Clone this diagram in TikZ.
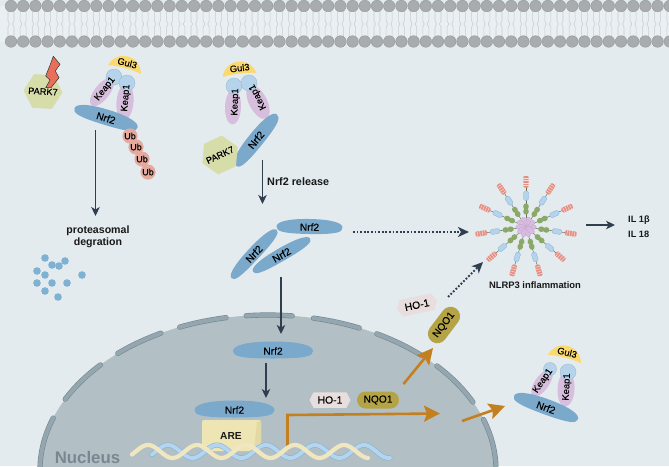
\documentclass[tikz,border=0pt]{standalone}
\usepackage{fontspec}
\setmainfont{Liberation Sans}
\newfontfamily\medfont{Liberation Sans}[FakeBold=0.2]
\usetikzlibrary{arrows.meta,shapes.geometric,shapes.misc,shapes.symbols}
\definecolor{cellbg}{HTML}{E3EBEF}
\definecolor{tailbg}{HTML}{E9EFF2}
\definecolor{tailline}{HTML}{C6CDD1}
\definecolor{lipid}{HTML}{A8ACAF}
\definecolor{lipidedge}{HTML}{93979A}
\definecolor{nucfill}{HTML}{B2C0C6}
\definecolor{envfill}{HTML}{94A6AF}
\definecolor{envedge}{HTML}{76878F}
\definecolor{nrfblue}{HTML}{7BA9CC}
\definecolor{keapfill}{HTML}{D6BEDC}
\definecolor{headfill}{HTML}{B5D3EB}
\definecolor{gulfill}{HTML}{FBD96E}
\definecolor{parkfill}{HTML}{D6DDA9}
\definecolor{ubfill}{HTML}{E5A99E}
\definecolor{darkline}{HTML}{2F3F4F}
\definecolor{orangeline}{HTML}{C47F1E}
\definecolor{nqofill}{HTML}{B5A445}
\definecolor{hofill}{HTML}{E8DEDD}
\definecolor{arefill}{HTML}{EEE5B5}
\definecolor{areside}{HTML}{E3D9A4}
\definecolor{creamdna}{HTML}{F0E7BE}
\definecolor{bluedna}{HTML}{B3D5F0}
\definecolor{bluednaedge}{HTML}{7FAFD6}
\definecolor{dotblue}{HTML}{7FB2D2}
\definecolor{boltred}{HTML}{E8705A}
\definecolor{nuclabel}{HTML}{7B8790}
\definecolor{stalk}{HTML}{6F6A5C}
\definecolor{greenbead}{HTML}{8AA867}
\definecolor{redbead}{HTML}{E58F83}
\definecolor{bluebead}{HTML}{B5D3EB}
\definecolor{petal}{HTML}{D9BBE0}
\definecolor{petaledge}{HTML}{BE9FC9}
\tikzset{
  lbl/.style={font=\medfont\fontsize{10.2}{11}\selectfont,text=black,inner sep=0pt},
  boldlbl/.style={font=\bfseries\fontsize{10.6}{12.2}\selectfont,text=black!90,inner sep=0pt,align=center},
  keapnode/.style={ellipse,fill=keapfill,inner sep=0pt},
  keaptext/.style={font=\medfont\fontsize{9.4}{10}\selectfont,text=black,inner sep=0pt},
  headnode/.style={circle,fill=headfill,draw=headfill!85!black,line width=.3pt,inner sep=0pt},
  ubnode/.style={circle,fill=ubfill,inner sep=0pt,minimum size=15.2pt,font=\medfont\fontsize{9}{10}\selectfont},
  parknode/.style={regular polygon,regular polygon sides=6,fill=parkfill,inner sep=-8pt,minimum size=39pt,font=\medfont\fontsize{9.2}{10}\selectfont},
  hobox/.style={signal,signal to=west and east,signal pointer angle=125,fill=hofill,inner sep=1pt,minimum height=15.5pt,minimum width=41pt,font=\medfont\fontsize{10.4}{11}\selectfont},
  nqobox/.style={rounded rectangle,fill=nqofill,inner sep=0pt,minimum height=17pt,minimum width=42pt,font=\medfont\fontsize{10.2}{11}\selectfont},
  darkarrow/.style={-{Stealth[length=9pt,width=8.5pt,inset=2.5pt]},draw=darkline,line width=1.3pt},
  dotarrow/.style={-{Stealth[length=11pt,width=10pt,inset=3pt]},draw=darkline,line width=1.8pt,dash pattern=on 1.8pt off 1.8pt},
  orangearrow/.style={-{Stealth[length=16pt,width=16pt,inset=3pt]},draw=orangeline,line width=2.6pt},
  envelope/.style={line cap=round,line width=5.2pt},
}
% one arc of the nuclear envelope, between two parameter angles of the nuclear ellipse
\newcommand\envseg[2]{%
  \draw[envelope,draw=envedge] plot[domain=#1:#2,samples=14,smooth,variable=\t] ({268+228*cos(\t)},{470-155*sin(\t)});
  \draw[envelope,line width=4pt,draw=envfill] plot[domain=#1:#2,samples=14,smooth,variable=\t] ({268+228*cos(\t)},{470-155*sin(\t)});
}
% Nrf2 protein: domed on top, flatter underneath
% name, x, y, angle, half length, top height, bottom height
\newcommand\nrfbody[7]{%
  \begin{scope}[shift={(#2,#3)},rotate=#4]
    \fill[nrfblue] (-#5,0) .. controls (-#5,-.55*#6) and (-.7*#5,-#6) .. (0,-#6)
      .. controls (.7*#5,-#6) and (#5,-.55*#6) .. (#5,0)
      .. controls (#5,.65*#7) and (.85*#5,#7) .. (0,#7)
      .. controls (-.85*#5,#7) and (-#5,.65*#7) .. (-#5,0) -- cycle;
  \end{scope}
  \node[lbl,rotate=#4] (#1) at (#2,#3) {Nrf2};
}
% Gul3 cap: crescent with its label
\newcommand\gulcap[4]{%
  \begin{scope}[shift={(#2,#3)},rotate=#4]
    \fill[gulfill] (-17,0) .. controls (-12,-18) and (12,-18) .. (17,0)
      .. controls (8,-2) and (-8,-2) .. (-17,0) -- cycle;
    \node[rotate=#4,inner sep=0pt,text=black,font=\medfont\fontsize{9.4}{10}\selectfont] (#1) at (1,-7) {Gul3};
  \end{scope}
}
\begin{document}
\begin{tikzpicture}[x=1pt,y=-1pt]
\useasboundingbox (0,0) rectangle (669,466);
\fill[cellbg] (0,0) rectangle (669,466);

% lipid bilayer
\fill[tailbg] (0,6) rectangle (669,42);
\foreach \i in {0,...,54}{
  \pgfmathsetmacro{\hx}{11+12.2*\i}
  \draw[tailline,line width=.55pt]
    (\hx-3,10) -- (\hx-3,21) -- (\hx-1.5,24) -- (\hx-3,27) -- (\hx-3,37)
    (\hx+3,10) -- (\hx+3,21) -- (\hx+1.5,24) -- (\hx+3,27) -- (\hx+3,37);
  \fill[lipid,draw=lipidedge,line width=.4pt] (\hx,6) circle[radius=5.8pt];
  \fill[lipid,draw=lipidedge,line width=.4pt] (\hx,41.5) circle[radius=5.8pt];
}

% nucleus and its envelope
\fill[nucfill] (268,470) ellipse[x radius=228pt,y radius=155pt];
\envseg{160.4}{179.5}
\envseg{137.3}{152.8}
\envseg{118}{131.2}
\envseg{100.6}{112.8}
\envseg{83.9}{95.5}
\envseg{66.4}{78.5}
\envseg{47.7}{61.5}
\envseg{26}{42.2}
\envseg{1.5}{19}
\node[font=\bfseries\fontsize{16.8}{18}\selectfont,text=nuclabel,inner sep=0pt] (nuclabel) at (87.5,457) {Nucleus};

% bound complex with ubiquitin tail
\node[parknode,rotate=-3] (parkA) at (43,91.5) {PARK7};
\fill[boltred,draw=black!80,line width=.5pt]
  (53.3,56.3) -- (60,64.3) -- (55.3,71) -- (59,77.7) -- (51,87.7) -- (45.7,87.7)
  -- (50,80) -- (45.7,76) -- (50,65.3) -- cycle;
\gulcap{gulA}{124.5}{69.5}{-15}
\node[keapnode,rotate=52,minimum width=34pt,minimum height=15pt] (keapAl) at (102,92) {};
\node[keapnode,rotate=85,minimum width=37pt,minimum height=17pt] (keapAr) at (125,102) {};
\node[headnode,minimum size=16pt] (headAl) at (114,77) {};
\node[headnode,minimum size=16pt] (headAr) at (127,83) {};
\node[keaptext,rotate=52] (keapAlText) at (105,89) {Keap1};
\node[keaptext,rotate=85] (keapArText) at (126,98) {Keap1};
\nrfbody{nrfA}{106}{118}{-17}{33}{8.5}{7}
\node[ubnode] (ubA) at (130,136) {Ub};
\node[ubnode] (ubB) at (136,147) {Ub};
\node[ubnode] (ubC) at (142,159) {Ub};
\node[ubnode] (ubD) at (148,172) {Ub};
\coordinate (degStart) at (95.5,130);
\coordinate (degEnd) at (95.5,216);
\draw[darkarrow] (degStart) -- (degEnd);
\node[boldlbl] (protlabel) at (98,237) {proteasomal\\degration};
\foreach \dx/\dy in {45/258,52/265,59/266,65/261,37/271,45/275,82/275,37/283,52/283,67/283,45/291,58/297}
  \fill[dotblue] (\dx,\dy) circle[radius=3.8pt];

% complex releasing Nrf2
\gulcap{gulB}{239.5}{75}{7}
\node[keapnode,rotate=88,minimum width=35pt,minimum height=16pt] (keapBl) at (233,107) {};
\node[keapnode,rotate=117,minimum width=37pt,minimum height=18pt] (keapBr) at (258,102) {};
\node[headnode,minimum size=16pt] (headBl) at (234,86) {};
\node[headnode,minimum size=16pt] (headBr) at (249,83) {};
\node[keaptext,rotate=88] (keapBlText) at (235.5,102) {Keap1};
\node[keaptext,rotate=117] (keapBrText) at (258,97) {Keap1};
\nrfbody{nrfB}{256}{140}{51}{33}{8}{7.5}
\node[parknode,rotate=25] (parkB) at (220,155) {PARK7};
\coordinate (relStart) at (262.5,160);
\coordinate (relEnd) at (262.5,204);
\draw[darkarrow] (relStart) -- (relEnd);
\node[boldlbl,anchor=west,font=\bfseries\fontsize{10.8}{12}\selectfont] (rellabel) at (267,182) {Nrf2 release};

% free Nrf2
\nrfbody{nrfC}{309.5}{227}{-1}{33}{8}{7}
\nrfbody{nrfD}{254}{254}{47}{33}{7}{6}
\nrfbody{nrfE}{281.5}{255}{30}{33}{7}{6}
\coordinate (impStart) at (281,277);
\coordinate (impEnd) at (281,334);
\draw[darkarrow] (impStart) -- (impEnd);

% nuclear Nrf2 and ARE on DNA
\nrfbody{nrfF}{273}{351}{0}{40}{9.5}{7.5}
\coordinate (dnaBindStart) at (266,363);
\coordinate (dnaBindEnd) at (266,398);
\draw[darkarrow] (dnaBindStart) -- (dnaBindEnd);
\nrfbody{nrfG}{234.5}{410}{0}{40}{9.5}{7.5}
\node[fill=arefill,rounded corners=2pt,minimum width=59pt,minimum height=31pt,inner sep=0pt] (areBox) at (231.5,435.5) {};
\fill[areside] (257,422) -- (261,421) -- (261,449) -- (254,450) -- cycle;
\node[boldlbl,font=\bfseries\fontsize{10.2}{12}\selectfont] (arelabel) at (231,436) {ARE};
\coordinate (txStart) at (287.5,450);
\coordinate (txCorner) at (287.5,415);
\coordinate (txEnd) at (440,413.5);
\draw[orangearrow] (txStart) -- (txCorner) -- (txEnd);

% double helix
\draw[bluednaedge,line width=5pt,line cap=round] plot[domain=152:390,samples=120,smooth,variable=\u] (\u,{451.5-6.5*cos(360/49*(\u-168))});
\draw[bluedna,line width=4pt,line cap=round] plot[domain=152:390,samples=120,smooth,variable=\u] (\u,{451.5-6.5*cos(360/49*(\u-168))});
\draw[creamdna,line width=4.2pt,line cap=round] plot[domain=132:368,samples=120,smooth,variable=\u] (\u,{451.5-6.5*cos(360/49*(\u-148))});

% products of transcription
\node[hobox] (hoIn) at (330,400) {HO-1};
\node[nqobox] (nqoIn) at (378,400) {NQO1};
\coordinate (upStart) at (403.5,384);
\coordinate (upEnd) at (433,348);
\draw[orangearrow] (upStart) -- (upEnd);
\coordinate (outStart) at (462,421);
\coordinate (outEnd) at (505,406);
\draw[orangearrow] (outStart) -- (outEnd);
\node[hobox,rotate=12,minimum height=17pt] (hoOut) at (417,305) {HO-1};
\node[nqobox,rotate=53,minimum width=41pt,minimum height=19pt] (nqoOut) at (444,325) {NQO1};

% reformed complex
\gulcap{gulC}{564.5}{359}{-14}
\node[keapnode,rotate=55,minimum width=32pt,minimum height=14pt] (keapCl) at (542,383) {};
\node[keapnode,rotate=87,minimum width=35pt,minimum height=17pt] (keapCr) at (566,389) {};
\node[headnode,minimum size=13pt] (headCl) at (550,369) {};
\node[headnode,minimum size=16pt] (headCr) at (568,372) {};
\node[keaptext,rotate=55] (keapClText) at (543,381) {Keap1};
\node[keaptext,rotate=87] (keapCrText) at (567,387) {Keap1};
\nrfbody{nrfH}{546}{407.5}{-20}{34}{8.5}{7}

% inflammasome
\begin{scope}[shift={(526,227)}]
  \foreach \a in {90,57.3,24.5,-8.2,-40.9,-73.6,-106.4,-139.1,-171.8,155.5,122.7}{
    \begin{scope}[rotate=\a]
      \draw[stalk,line width=.5pt] (9,0) -- (40,0);
      \fill[greenbead] (15.5,0) ellipse[x radius=3.2pt,y radius=2.8pt];
      \fill[greenbead] (20.5,0) ellipse[x radius=3.2pt,y radius=2.8pt];
      \fill[bluebead,draw=bluednaedge,line width=.25pt,rounded corners=1.5pt] (26.5,-2.5) rectangle (36,2.5);
      \fill[redbead,rounded corners=1pt] (39.5,-2.6) rectangle (51,2.6);
      \foreach \s in {41.5,44,46.5,49}
        \draw[white!70!redbead,line width=.5pt] (\s,-2.6) -- (\s,2.6);
    \end{scope}
  }
  \foreach \a in {0,36,...,324}
    \fill[petal,draw=petaledge,line width=.25pt,rotate=\a] (5.5,0) ellipse[x radius=4.8pt,y radius=2.7pt];
\end{scope}
\coordinate (dotInA) at (353,232);
\coordinate (dotInB) at (469,232);
\draw[dotarrow] (dotInA) -- (dotInB);
\coordinate (dotHoA) at (448,297);
\coordinate (dotHoB) at (483,262);
\draw[dotarrow] (dotHoA) -- (dotHoB);
\node[boldlbl,font=\bfseries\fontsize{9.4}{12}\selectfont] (nlrplabel) at (535,285) {NLRP3 inflammation};
\coordinate (ilStart) at (586,225);
\coordinate (ilEnd) at (615,225);
\draw[darkarrow] (ilStart) -- (ilEnd);
\node[boldlbl,anchor=west,font=\bfseries\fontsize{9.2}{12}\selectfont] (ilA) at (628,220) {IL 1β};
\node[boldlbl,anchor=west,font=\bfseries\fontsize{9.2}{12}\selectfont] (ilB) at (628,234) {IL 18};
\end{tikzpicture}
\end{document}
